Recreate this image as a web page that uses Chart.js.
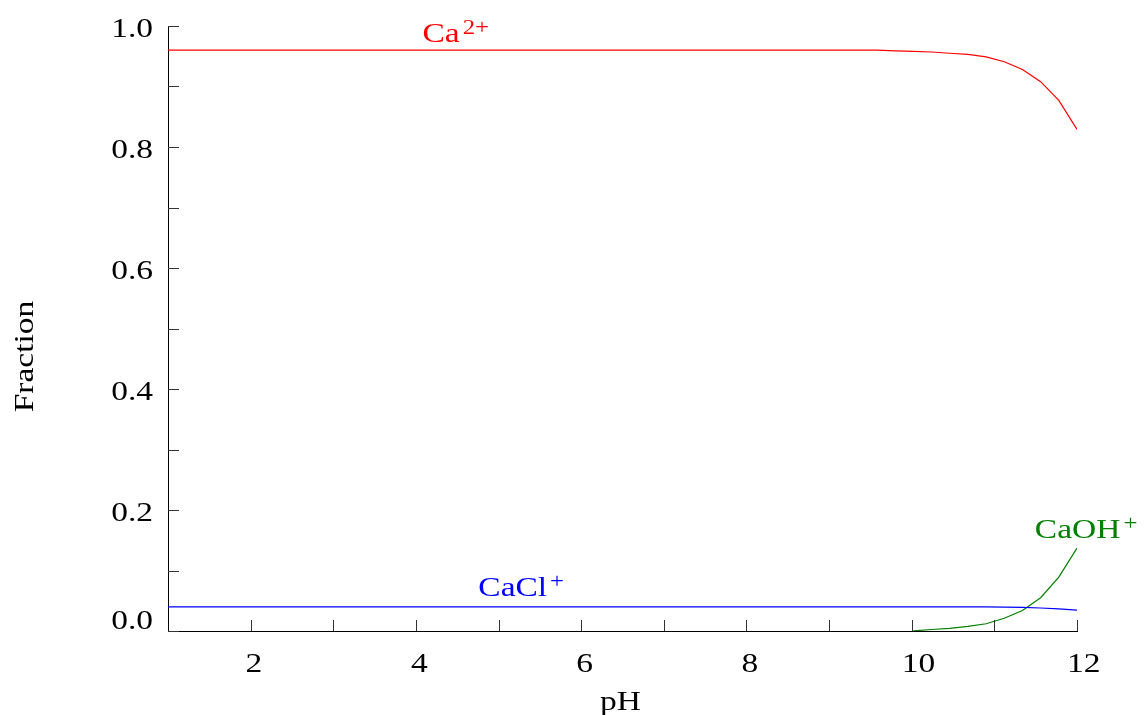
<!DOCTYPE html>
<html>
<head>
<meta charset="utf-8">
<title>Ca speciation vs pH</title>
<script src="https://cdn.jsdelivr.net/npm/chart.js@4.4.1/dist/chart.umd.min.js"></script>
<style>
  html, body { margin: 0; padding: 0; background: #fff; }
  #wrap { width: 1144px; height: 715px; }
</style>
</head>
<body>
<div id="wrap"><canvas id="chart" width="1144" height="715"></canvas></div>
<script>
// pH grid
const pH = [
  1.00, 1.22, 1.44, 1.66, 1.88, 2.10, 2.32, 2.54, 2.76, 2.98,
  3.20, 3.42, 3.64, 3.86, 4.08, 4.30, 4.52, 4.74, 4.96, 5.18,
  5.40, 5.62, 5.84, 6.06, 6.28, 6.50, 6.72, 6.94, 7.16, 7.38,
  7.60, 7.82, 8.04, 8.26, 8.48, 8.70, 8.92, 9.14, 9.36, 9.58,
  9.80, 10.02, 10.24, 10.46, 10.68, 10.90, 11.12, 11.34, 11.56, 11.78,
  12.00
];

// Fraction of Ca2+
const caFree = [
  0.960, 0.960, 0.960, 0.960, 0.960, 0.960, 0.960, 0.960, 0.960, 0.960,
  0.960, 0.960, 0.960, 0.960, 0.960, 0.960, 0.960, 0.960, 0.960, 0.960,
  0.960, 0.960, 0.960, 0.960, 0.960, 0.960, 0.960, 0.960, 0.960, 0.960,
  0.960, 0.960, 0.960, 0.960, 0.960, 0.960, 0.960, 0.960, 0.960, 0.960,
  0.959, 0.958, 0.957, 0.955, 0.953, 0.949, 0.941, 0.928, 0.908, 0.877,
  0.829
];

// Fraction of CaCl+
const caCl = [
  0.040, 0.040, 0.040, 0.040, 0.040, 0.040, 0.040, 0.040, 0.040, 0.040,
  0.040, 0.040, 0.040, 0.040, 0.040, 0.040, 0.040, 0.040, 0.040, 0.040,
  0.040, 0.040, 0.040, 0.040, 0.040, 0.040, 0.040, 0.040, 0.040, 0.040,
  0.040, 0.040, 0.040, 0.040, 0.040, 0.040, 0.040, 0.040, 0.040, 0.040,
  0.040, 0.040, 0.040, 0.040, 0.040, 0.0398, 0.0395, 0.039, 0.038, 0.0365,
  0.0345
];

// Fraction of CaOH+ (negligible below pH 10, left out)
const caOH = [
  null, null, null, null, null, null, null, null, null, null,
  null, null, null, null, null, null, null, null, null, null,
  null, null, null, null, null, null, null, null, null, null,
  null, null, null, null, null, null, null, null, null, null,
  null, 0.0002, 0.0025, 0.0045, 0.0075, 0.012, 0.021, 0.034, 0.055, 0.089,
  0.137
];

// Species names (base + superscript charge) and where each label sits, in pH / fraction units
const speciesNames = [['Ca', '2+'], ['CaCl', '+'], ['CaOH', '+']];
const speciesColors = ['#ff0000', '#0000ff', '#008000'];
const labelAnchors = [[4.08, 0.974], [4.755, 0.0575], [11.49, 0.154]];

const xTitle = 'pH';
const yTitle = 'Fraction';

const FONT = '"Liberation Serif", "Times New Roman", serif';
const SX = 1.24;  // wide serif lettering

function toXY(ys) { return pH.map((x, i) => ({ x: x, y: ys[i] })); }

// write text widened horizontally; anchor: 'left' | 'right' | 'center' | number (fraction of width left of x)
function wideText(ctx, text, x, y, anchor) {
  const w = ctx.measureText(text).width * SX;
  let left = x;
  if (anchor === 'right') left = x - w;
  else if (anchor === 'center') left = x - w / 2;
  else if (typeof anchor === 'number') left = x - w * anchor;
  ctx.save();
  ctx.translate(left, y);
  ctx.scale(SX, 1);
  ctx.fillText(text, 0, 0);
  ctx.restore();
  return w;
}

const axisDecor = {
  id: 'axisDecor',
  afterDraw(chart) {
    const { ctx, chartArea: a, scales: { x, y } } = chart;
    const TL = 11;
    ctx.save();
    // inward tick marks
    ctx.strokeStyle = '#333';
    ctx.lineWidth = 1;
    ctx.beginPath();
    y.ticks.forEach(t => {
      const py = Math.round(y.getPixelForValue(t.value)) + 0.5;
      ctx.moveTo(a.left, py);
      ctx.lineTo(a.left + TL, py);
    });
    x.ticks.forEach(t => {
      if (t.value <= x.min) return;
      const px = Math.round(x.getPixelForValue(t.value)) + 0.5;
      ctx.moveTo(px, a.bottom);
      ctx.lineTo(px, a.bottom - TL);
    });
    ctx.stroke();

    // tick labels
    ctx.fillStyle = '#000';
    ctx.textBaseline = 'alphabetic';
    ctx.font = '27px ' + FONT;
    y.ticks.forEach(t => {
      const k = Math.round(t.value * 10);
      if (k % 2 !== 0) return;
      let py = y.getPixelForValue(t.value) + 11;
      if (k === 0) py -= 13; // lift the zero label clear of the x axis numbers
      wideText(ctx, t.value.toFixed(1), a.left - 15, py, 'right');
    });
    x.ticks.forEach(t => {
      if (t.value % 2 !== 0) return;
      wideText(ctx, String(t.value), x.getPixelForValue(t.value), a.bottom + 41, 0.3);
    });

    // axis titles
    wideText(ctx, xTitle, (a.left + a.right) / 2 - 2, 710, 'center');
    ctx.save();
    ctx.translate(33, (a.top + a.bottom) / 2 + 28);
    ctx.rotate(-Math.PI / 2);
    wideText(ctx, yTitle, 0, 0, 'center');
    ctx.restore();

    // species labels with superscript charge
    speciesNames.forEach((nm, i) => {
      const px = x.getPixelForValue(labelAnchors[i][0]);
      const py = y.getPixelForValue(labelAnchors[i][1]);
      ctx.fillStyle = speciesColors[i];
      ctx.font = '27px ' + FONT;
      const w = wideText(ctx, nm[0], px, py, 'left');
      ctx.font = '20px ' + FONT;
      wideText(ctx, nm[1], px + w + 3, py - 8, 'left');
    });
    ctx.restore();
  }
};

const mkSet = (label, data, color) => ({
  label: label,
  data: toXY(data),
  borderColor: color,
  backgroundColor: color,
  borderWidth: 1.2,
  pointRadius: 0,
  tension: 0,
  fill: false,
  spanGaps: false
});

new Chart(document.getElementById('chart'), {
  type: 'line',
  data: {
    datasets: [
      mkSet('Ca2+', caFree, speciesColors[0]),
      mkSet('CaCl+', caCl, speciesColors[1]),
      mkSet('CaOH+', caOH, speciesColors[2])
    ]
  },
  options: {
    responsive: false,
    devicePixelRatio: 1,
    animation: false,
    layout: { padding: { top: 26, right: 67, left: 0, bottom: 0 } },
    plugins: { legend: { display: false }, tooltip: { enabled: false } },
    scales: {
      x: {
        type: 'linear',
        min: 1,
        max: 12,
        ticks: { stepSize: 1, display: false },
        grid: { display: false },
        border: { display: true, color: '#000', width: 1 },
        afterFit(s) { s.height = 84; }
      },
      y: {
        type: 'linear',
        min: 0,
        max: 1,
        ticks: { stepSize: 0.1, display: false },
        grid: { display: false },
        border: { display: true, color: '#000', width: 1 },
        afterFit(s) { s.width = 168; }
      }
    }
  },
  plugins: [axisDecor]
});
</script>
</body>
</html>
